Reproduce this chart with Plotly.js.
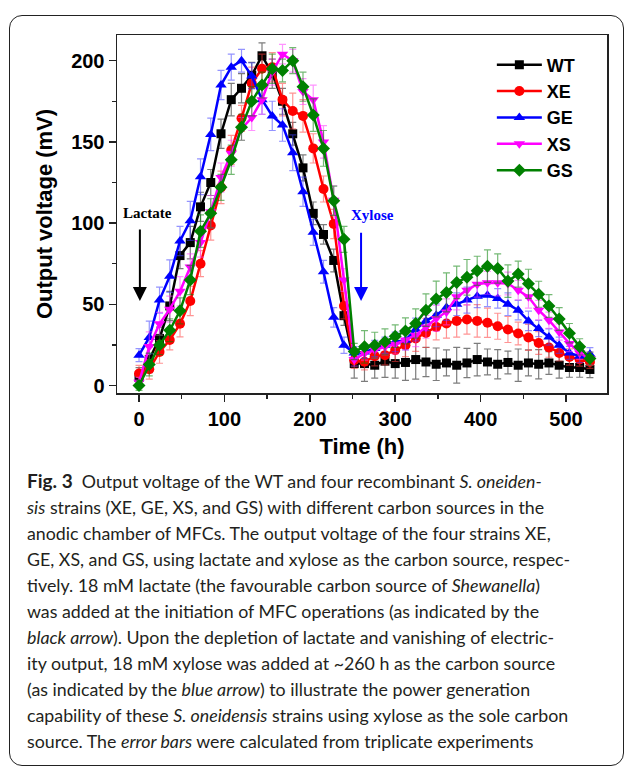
<!DOCTYPE html>
<html>
<head>
<meta charset="utf-8">
<script src="https://cdn.plot.ly/plotly-3.0.1.min.js"></script>
<style>
html,body{margin:0;padding:0;background:#fff;}
#wrap{position:relative;width:629px;height:770px;overflow:hidden;background:#fff;}
#box{position:absolute;left:9px;top:15px;width:615px;height:751px;border:1.5px solid #222;border-radius:13px;box-sizing:border-box;}
#plot{position:absolute;left:0;top:0;width:629px;height:770px;}
#cap{position:absolute;left:27px;top:468px;font-family:Lato,"Open Sans",sans-serif;font-size:17.8px;line-height:26px;color:#231f20;white-space:nowrap;}
#cap b{font-weight:bold;font-size:19px;}
</style>
</head>
<body>
<div id="wrap">
<div id="box"></div>
<div id="plot"></div>
<div id="cap">
<div><b>Fig. 3</b>&nbsp; Output voltage of the WT and four recombinant <i>S. oneiden-</i></div>
<div><i>sis</i> strains (XE, GE, XS, and GS) with different carbon sources in the</div>
<div>anodic chamber of MFCs. The output voltage of the four strains XE,</div>
<div>GE, XS, and GS, using lactate and xylose as the carbon source, respec-</div>
<div>tively. 18 mM lactate (the favourable carbon source of <i>Shewanella</i>)</div>
<div>was added at the initiation of MFC operations (as indicated by the</div>
<div><i>black arrow</i>). Upon the depletion of lactate and vanishing of electric-</div>
<div>ity output, 18 mM xylose was added at ~260 h as the carbon source</div>
<div>(as indicated by the <i>blue arrow</i>) to illustrate the power generation</div>
<div>capability of these <i>S. oneidensis</i> strains using xylose as the sole carbon</div>
<div>source. The <i>error bars</i> were calculated from triplicate experiments</div>
</div>
</div>
<script>
var time = [0,12,24,36,48,60,72,84,96,108,120,132,144,156,168,180,192,204,216,228,240,252,264,276,288,300,312,324,336,348,360,372,384,396,408,420,432,444,456,468,480,492,504,516,528];

var names = ["WT","XE","GE","XS","GS"];

var WT = [5,16,29,49,80,88,110,125,155,176,183,191,203,192,175,155,134,106,93,77,43,13.5,
          13.5,12.5,15,13.5,14.2,16,14.5,13.1,13.9,12.5,13.9,16,14.5,13.1,14.2,12.5,13.9,13.1,13.9,12.5,11.1,11.1,9.9];
var XE = [7.4,10,20.7,28,38,52,75,98.5,122,145,164.5,186,195,196,176,169,166,146,121,99.5,49,15.6,
          14.6,18.1,18.7,21.8,24.8,29,32.4,36.1,38.2,39.8,40.7,39.8,38.6,36.5,34.5,32,29.6,26.2,23.4,20.1,17.6,16,14.5];
var GE = [18.7,29.6,52.6,67.3,89,101.4,128.5,154.6,185,196,200,190.6,176,166,160.4,143.3,119.3,94.3,70,42,24.8,20,
          20.7,22.8,24.8,26.9,27.9,34.5,39.8,43.3,48.1,50.1,52.6,55,55.6,53.6,50.1,46.4,39.8,35.1,29.9,24.8,20.1,18.1,19.3];
var XS = [2,24,38,47,58,73,88,107,128,143,158,165,176,193,204,200,181,176,150,114,65,16,
          19.7,21.8,23.8,25.4,28,31,36.1,41.3,45.3,54.6,58.7,62.4,63.2,63.2,62.8,58.7,54.6,46.4,40.2,33,25.9,20.1,16.6];
var GS = [0,13,25,34,46,65,95,106,122,139,159,175,185,195,194,200,184,166.5,146,113.7,90,21,
          23.8,24.8,26.9,30.4,33.6,38.2,46.4,53.3,57.3,63.5,66.6,70.6,73.5,72.1,64.3,68.6,62.6,56.2,49,41,32.2,23.8,16.6];

var WT_err = [6,8,7,9,8,10,9,8,9,10,9,8,8,9,8,7,8,7,6,7,6,9,
              11,8,10,9,11,12,9,10,8,11,9,10,8,9,7,10,8,9,7,8,6,6,5];
var XE_err = [5,6,7,6,8,9,8,9,10,9,8,10,9,9,10,11,10,9,8,9,8,5,
              5,6,6,7,7,8,9,8,9,10,9,10,9,8,8,7,8,7,6,5,5,4,4];
var GE_err = [4,10,8,10,9,12,11,10,9,8,7,8,9,9,10,11,9,8,7,6,5,4,
              4,5,5,6,6,7,6,7,8,7,8,7,7,6,7,6,6,5,5,5,4,4,4];
var XS_err = [3,9,7,8,9,8,9,10,9,8,7,8,9,8,6,7,8,9,10,9,7,4,
              4,5,5,6,6,7,7,8,8,8,9,8,7,8,7,6,7,6,5,5,5,4,4];
var GS_err = [3,7,6,7,8,9,10,9,8,9,8,9,8,9,7,8,9,10,11,9,8,5,
              10,8,8,7,8,9,10,11,12,10,11,9,10,9,10,8,9,8,7,7,6,5,4];

var xTicks = [0,100,200,300,400,500];
var yTicks = [0,50,100,150,200];

var series = [WT, XE, GE, XS, GS];
var errs = [WT_err, XE_err, GE_err, XS_err, GS_err];
var colors = ["#000000","#ff0000","#0000ff","#ff00ff","#008000"];
var errColors = ["rgba(80,80,80,0.75)","rgba(255,60,60,0.55)","rgba(60,60,255,0.55)","rgba(255,60,255,0.55)","rgba(0,128,0,0.55)"];
var symbols = ["square","circle","triangle-up","triangle-down","diamond"];
var sizes = [9,10,10,10,10];

var traces = series.map(function(s,i){
  return {
    x: time, y: s, name: names[i], type: "scatter", mode: "lines+markers",
    line: {color: colors[i], width: 2.5},
    marker: {color: colors[i], symbol: symbols[i], size: sizes[i]},
    error_y: {type: "data", array: errs[i], visible: true, color: errColors[i], thickness: 1.2, width: 3.5}
  };
});

var axisFont = {family: "Liberation Sans, Arial, sans-serif", size: 20, color: "#000", weight: "bold"};

var layout = {
  width: 629, height: 770,
  margin: {l: 117, r: 22, t: 35, b: 377},
  paper_bgcolor: "rgba(0,0,0,0)",
  plot_bgcolor: "rgba(0,0,0,0)",
  showlegend: true,
  legend: {
    x: 0.765, y: 0.968, xanchor: "left", yanchor: "top",
    font: {family: "Liberation Sans, Arial, sans-serif", size: 18, color: "#000", weight: "bold"},
    bgcolor: "rgba(0,0,0,0)", itemwidth: 45, tracegroupgap: 0
  },
  xaxis: {
    range: [-25.8, 548], tickvals: xTicks, ticktext: xTicks.map(String),
    showline: true, mirror: true, linecolor: "#222", linewidth: 1.5,
    ticks: "outside", ticklen: 7, tickwidth: 1.5, tickcolor: "#222",
    minor: {dtick: 50, tick0: 0, ticks: "outside", ticklen: 4, tickwidth: 1.5, tickcolor: "#222"},
    showgrid: false, zeroline: false,
    tickfont: axisFont,
    title: {text: "Time (h)", font: {family: "Liberation Sans, Arial, sans-serif", size: 22, color: "#000", weight: "bold"}, standoff: 10}
  },
  yaxis: {
    range: [-4.6, 215.8], tickvals: yTicks, ticktext: yTicks.map(String),
    showline: true, mirror: true, linecolor: "#222", linewidth: 1.5,
    ticks: "outside", ticklen: 7, tickwidth: 1.5, tickcolor: "#222",
    minor: {dtick: 25, tick0: 0, ticks: "outside", ticklen: 4, tickwidth: 1.5, tickcolor: "#222"},
    showgrid: false, zeroline: false,
    tickfont: axisFont,
    title: {text: "Output voltage (mV)", font: {family: "Liberation Sans, Arial, sans-serif", size: 22, color: "#000", weight: "bold"}, standoff: 12}
  },
  annotations: [
    {x: 10, y: 106, xref: "x", yref: "y", text: "<b>Lactate</b>", showarrow: false,
     font: {family: "Liberation Serif, Times New Roman, serif", size: 15, color: "#000"}},
    {x: 1, y: 52, xref: "x", yref: "y", ax: 1, ay: 97, axref: "x", ayref: "y", text: "",
     showarrow: true, arrowhead: 2, arrowsize: 1.4, arrowwidth: 2, arrowcolor: "#000"},
    {x: 273, y: 105, xref: "x", yref: "y", text: "<b>Xylose</b>", showarrow: false,
     font: {family: "Liberation Serif, Times New Roman, serif", size: 15, color: "#0000ff"}},
    {x: 260, y: 52, xref: "x", yref: "y", ax: 260, ay: 95, axref: "x", ayref: "y", text: "",
     showarrow: true, arrowhead: 2, arrowsize: 1.4, arrowwidth: 2, arrowcolor: "#0000ff"}
  ]
};

Plotly.newPlot("plot", traces, layout, {displayModeBar: false, staticPlot: true});
</script>
</body>
</html>
